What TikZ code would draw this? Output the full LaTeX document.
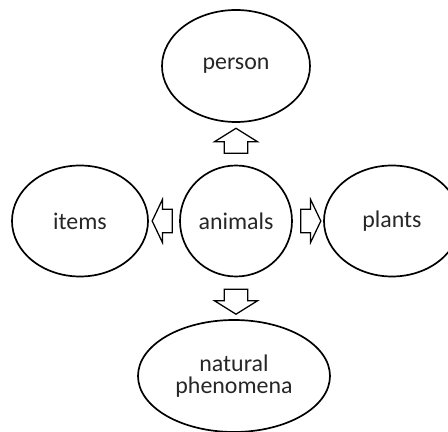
\documentclass[tikz,border=0pt]{standalone}
\usepackage{fontspec}
\setmainfont{Carlito}
\usepackage{tikz}
\usetikzlibrary{shapes,arrows}

\begin{document}
\begin{tikzpicture}
\tikzset{
    topic/.style={
        ellipse, draw=black, line width=1.2pt,
        inner sep=0pt, align=center,
        text=black!85, font=\fontsize{17}{16}\selectfont
    },
    fat arrow/.style={
        single arrow, draw=black, line width=0.9pt,
        inner xsep=0pt, inner ysep=0.28cm,
        single arrow head extend=0.24cm
    },
    vert arrow/.style={
        fat arrow, minimum height=0.625cm, single arrow tip angle=116
    },
    horiz arrow/.style={
        fat arrow, minimum height=0.5cm, single arrow tip angle=129
    }
}
\useasboundingbox (-5.9,-5.275) rectangle (5.3,5.525);

% Noduri
\node[topic, minimum width=3.7cm, minimum height=2.8cm]   (person)  at (0, 3.875)     {person};
\node[topic, minimum width=3.4cm, minimum height=2.775cm] (items)   at (-3.9, 0)      {items};
\node[topic, minimum width=2.8cm, minimum height=2.775cm] (animals) at (0, 0)         {animals};
\node[topic, minimum width=3.4cm, minimum height=2.775cm] (plants)  at (3.9, 0)       {plants};
\node[topic, minimum width=4.8cm, minimum height=2.8cm]   (nature)  at (-0.05, -3.875) {natural\\phenomena};

% Sageti
\node[vert arrow, rotate=90]   (toperson) at (0, 1.9125)  {};
\node[vert arrow, rotate=270]  (tonature) at (0, -1.925)  {};
\node[horiz arrow, rotate=180] (toitems)  at (-1.775, 0)  {};
\node[horiz arrow]             (toplants) at (1.8, 0)     {};
\end{tikzpicture}
\end{document}
